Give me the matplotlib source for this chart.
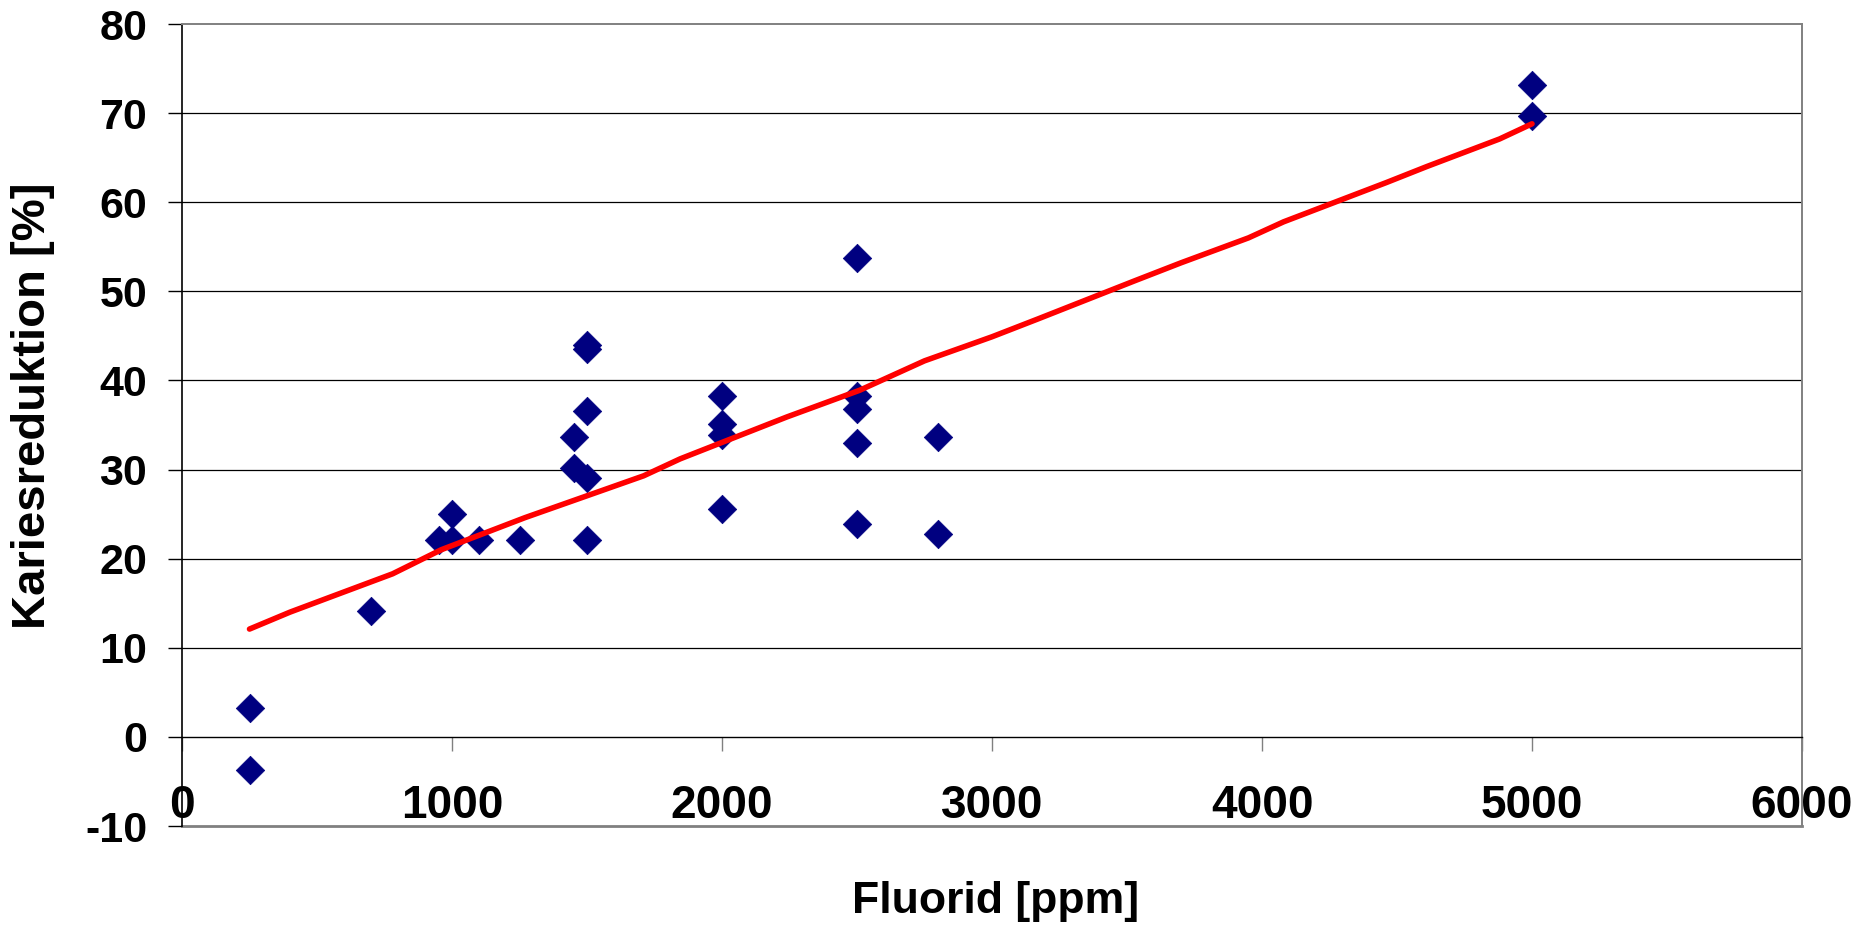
import matplotlib
matplotlib.use("Agg")
import matplotlib.pyplot as plt
from matplotlib.path import Path

# ---- data ----
fluorid = [250, 250, 700, 950, 1000, 1000, 1100, 1250, 1450, 1450, 1500, 1500,
           1500, 1500, 1500, 2000, 2000, 2000, 2000, 2500, 2500, 2500, 2500,
           2500, 2800, 2800, 5000, 5000]
karies = [3.2, -3.7, 14.1, 22.1, 22.1, 25.0, 22.1, 22.1, 33.6, 30.2, 29.1, 22.1,
          36.6, 43.5, 44.0, 38.3, 35.1, 33.9, 25.6, 53.7, 38.2, 36.8, 33.0,
          23.9, 33.7, 22.8, 73.1, 69.7]

trend_x = [250, 400, 550, 780, 960, 1270, 1710, 1845, 2240, 2510, 2750, 3000,
           3170, 3530, 3700, 3950, 4080, 4460, 4610, 4880, 5000]
trend_y = [12.1, 14.0, 15.7, 18.3, 21.0, 24.6, 29.3, 31.2, 35.9, 38.9, 42.2,
           44.9, 46.9, 51.2, 53.2, 56.0, 57.8, 62.2, 64.0, 67.1, 68.8]

x_ticks = [0, 1000, 2000, 3000, 4000, 5000, 6000]
y_ticks = [-10, 0, 10, 20, 30, 40, 50, 60, 70, 80]
x_title = "Fluorid [ppm]"
y_title = "Kariesreduktion [%]"

# ---- figure ----
plt.rcParams['font.family'] = ['Liberation Sans', 'DejaVu Sans']
plt.rcParams['font.weight'] = 'bold'

W, H = 1872, 926
fig = plt.figure(figsize=(W / 100, H / 100), dpi=100)
ax = fig.add_axes([182 / W, 1 - 826 / H, (1802 - 182) / W, (826 - 24) / H])

ax.set_xlim(0, 6000)
ax.set_ylim(-10, 80)

# gridlines
for yv in y_ticks:
    if yv not in (-10, 0, 80):
        ax.axhline(yv, color='#000000', lw=0.9, zorder=1)

# frame
for s in ('top', 'right'):
    ax.spines[s].set_color('#808080')
    ax.spines[s].set_linewidth(1.4)
ax.axhline(-10, color='#808080', lw=2.0, zorder=1, clip_on=False)
ax.spines['left'].set_color('#000000')
ax.spines['left'].set_linewidth(1.2)
ax.spines['bottom'].set_position(('data', 0))
ax.spines['bottom'].set_color('#000000')
ax.spines['bottom'].set_linewidth(1.0)

# markers
diamond = Path([(0, 1), (1, 0), (0, -1), (-1, 0), (0, 1)],
               [Path.MOVETO, Path.LINETO, Path.LINETO, Path.LINETO, Path.CLOSEPOLY])
ax.plot(fluorid, karies, linestyle='none', marker=diamond, markersize=20.5,
        markerfacecolor='#000080', markeredgecolor='#000080', markeredgewidth=0.5,
        zorder=3, clip_on=False)

ax.plot(trend_x, trend_y, color='#FF0000', lw=4.0, solid_capstyle='round',
        solid_joinstyle='round', zorder=4)

ax.set_xticks(x_ticks)
ax.set_yticks(y_ticks)
ax.set_xticklabels([str(v) for v in x_ticks])
ax.set_yticklabels([str(v) for v in y_ticks])
ax.tick_params(axis='x', direction='out', length=10, width=1.0, color='#808080',
               pad=24, labelsize=33)
ax.tick_params(axis='y', direction='out', length=10, width=1.0, color='#000000',
               pad=15, labelsize=31)
for lbl in ax.get_xticklabels() + ax.get_yticklabels():
    lbl.set_fontweight('bold')

fig.text(33 / W, 1 - 406 / H, y_title, rotation=90, ha='center', va='center',
         fontsize=34, fontweight='bold')
fig.text(996 / W, 1 - 902 / H, x_title, ha='center', va='center',
         fontsize=32, fontweight='bold')

fig.savefig('out.png', dpi=100)
